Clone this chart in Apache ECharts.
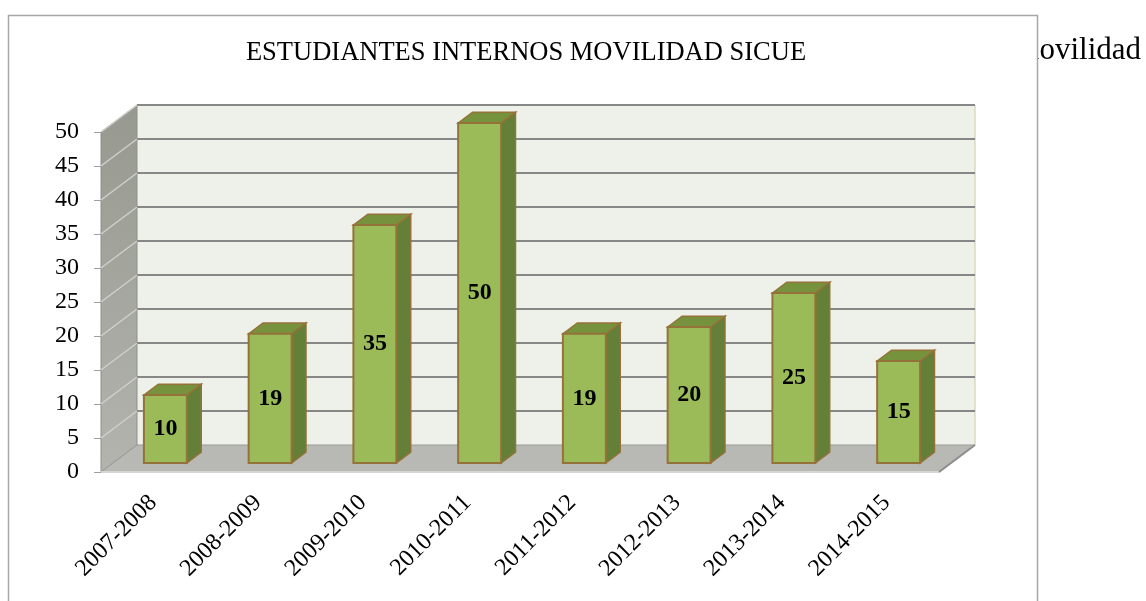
<!DOCTYPE html>
<html>
<head>
<meta charset="utf-8">
<title>Estudiantes internos movilidad SICUE</title>
<script src="https://cdn.jsdelivr.net/npm/echarts@6/dist/echarts.min.js"></script>
<style>
  html, body { margin: 0; padding: 0; background: #fff; }
  #chart { width: 1146px; height: 601px; }
</style>
</head>
<body>
<div id="chart"></div>
<script>
const cursos = ['2007-2008', '2008-2009', '2009-2010', '2010-2011', '2011-2012', '2012-2013', '2013-2014', '2014-2015']
const estudiantes = [10, 19, 35, 50, 19, 20, 25, 15]
const yTicks = [0, 5, 10, 15, 20, 25, 30, 35, 40, 45, 50]

// 3D depth of the box (pixels)
const DX = 36
const DY = -27
const SERIF = '"Liberation Serif", "Times New Roman", serif'

const chart = echarts.init(document.getElementById('chart'))

function renderWalls(params, api) {
  const cs = params.coordSys
  const x0 = cs.x
  const x1 = cs.x + cs.width
  const yb = api.coord([0, yTicks[0]])[1]
  const yt = api.coord([0, yTicks[yTicks.length - 1]])[1]
  const children = []

  // back wall
  children.push({
    type: 'rect',
    shape: { x: x0 + DX, y: yt + DY, width: x1 - x0, height: yb - yt },
    style: { fill: '#eef1ea' }
  })
  children.push({
    type: 'line',
    shape: { x1: x1 + DX, y1: yt + DY, x2: x1 + DX, y2: yb + DY },
    style: { stroke: '#dcd8bc', lineWidth: 1.5 }
  })
  // left wall
  children.push({
    type: 'polygon',
    shape: { points: [[x0, yb], [x0 + DX, yb + DY], [x0 + DX, yt + DY], [x0, yt]] },
    style: {
      fill: new echarts.graphic.LinearGradient(0, 0, 0, 1, [
        { offset: 0, color: '#97988f' },
        { offset: 1, color: '#b3b4ae' }
      ]),
      stroke: '#8e8f8a',
      lineWidth: 1
    }
  })
  // grid lines on back wall and left wall
  yTicks.forEach(v => {
    const y = api.coord([0, v])[1]
    if (v > 0) {
      children.push({
        type: 'line',
        shape: { x1: x0 + DX, y1: y + DY, x2: x1 + DX, y2: y + DY },
        style: { stroke: '#878787', lineWidth: 2 }
      })
      children.push({
        type: 'line',
        shape: { x1: x0, y1: y, x2: x0 + DX, y2: y + DY },
        style: { stroke: '#cfd0cc', lineWidth: 1.5 }
      })
    }
  })
  // floor
  children.push({
    type: 'polygon',
    shape: { points: [[x0, yb], [x1, yb], [x1 + DX, yb + DY], [x0 + DX, yb + DY]] },
    style: { fill: '#b8b9b4', stroke: '#9a9b97', lineWidth: 1 }
  })
  children.push({
    type: 'line',
    shape: { x1: x0, y1: yb, x2: x1, y2: yb },
    style: { stroke: '#d6d6d2', lineWidth: 2 }
  })
  children.push({
    type: 'line',
    shape: { x1: x1, y1: yb, x2: x1 + DX, y2: yb + DY },
    style: { stroke: '#8d8e8a', lineWidth: 2 }
  })
  return { type: 'group', children }
}

function renderBar(params, api) {
  const i = api.value(0)
  const v = api.value(1)
  const top = api.coord([i, v])
  const base = api.coord([i, 0])
  const bw = api.size([1, 0])[0]
  const w = bw * 0.41
  // front face sits one third into the depth, the bar is 0.4 deep
  const fx = top[0] - w / 2 + DX / 3
  const fyTop = top[1] + DY / 3
  const fyBot = base[1] + DY / 3
  const ddx = DX * 0.4
  const ddy = DY * 0.4
  const stroke = '#95723a'
  return {
    type: 'group',
    children: [
      {
        type: 'polygon',
        shape: { points: [[fx + w, fyTop], [fx + w + ddx, fyTop + ddy], [fx + w + ddx, fyBot + ddy], [fx + w, fyBot]] },
        style: { fill: '#647f37', stroke: stroke, lineWidth: 1.5 }
      },
      {
        type: 'polygon',
        shape: { points: [[fx, fyTop], [fx + ddx, fyTop + ddy], [fx + w + ddx, fyTop + ddy], [fx + w, fyTop]] },
        style: { fill: '#76923c', stroke: stroke, lineWidth: 1.5 }
      },
      {
        type: 'rect',
        shape: { x: fx, y: fyTop, width: w, height: fyBot - fyTop },
        style: { fill: '#9bbb59', stroke: stroke, lineWidth: 2 }
      },
      {
        type: 'text',
        style: {
          text: String(v),
          x: fx + w / 2,
          y: (fyTop + fyBot) / 2,
          align: 'center',
          verticalAlign: 'middle',
          font: 'bold 24px ' + SERIF,
          fill: '#000'
        }
      }
    ]
  }
}

const option = {
  animation: false,
  backgroundColor: '#fff',
  graphic: [
    {
      type: 'text',
      z: -2,
      style: {
        text: 'El histórico de los estudiantes internos que han participado en el programa de movilidad',
        x: 1141,
        y: 35,
        align: 'right',
        verticalAlign: 'alphabetic',
        font: '31px ' + SERIF,
        fill: '#000'
      }
    },
    {
      type: 'rect',
      z: -1,
      shape: { x: 8.5, y: 15.5, width: 1029, height: 620 },
      style: { fill: '#fff', stroke: '#a6a6a6', lineWidth: 1.5 }
    }
  ],
  title: {
    text: 'ESTUDIANTES INTERNOS MOVILIDAD SICUE',
    left: 521,
    textAlign: 'center',
    top: 35,
    textStyle: { fontFamily: SERIF, fontWeight: 'normal', fontSize: 26.5, color: '#000' }
  },
  grid: { left: 101, right: 207, top: 132, bottom: 129 },
  xAxis: {
    type: 'category',
    data: cursos,
    boundaryGap: true,
    z: 1,
    axisLine: { lineStyle: { color: '#c8c8c4', width: 1 } },
    axisTick: { length: 7, lineStyle: { color: '#b0b0b0' } },
    axisLabel: { rotate: 45, margin: 27, fontSize: 24, fontFamily: SERIF, color: '#000' }
  },
  yAxis: {
    type: 'value',
    min: 0,
    max: 50,
    interval: 5,
    z: 1,
    splitLine: { show: false },
    axisLine: { show: true, lineStyle: { color: '#a5a5a5' } },
    axisTick: { show: true, length: 7, lineStyle: { color: '#a0a0a0' } },
    axisLabel: { margin: 22, fontSize: 24, fontFamily: SERIF, color: '#000' }
  },
  series: [
    {
      type: 'custom',
      silent: true,
      renderItem: renderWalls,
      data: [[0, 0]],
      encode: { x: 0, y: 1 }
    },
    {
      type: 'custom',
      silent: true,
      renderItem: renderBar,
      data: estudiantes.map((v, i) => [i, v]),
      encode: { x: 0, y: 1 }
    }
  ]
}

chart.setOption(option)
</script>
</body>
</html>
